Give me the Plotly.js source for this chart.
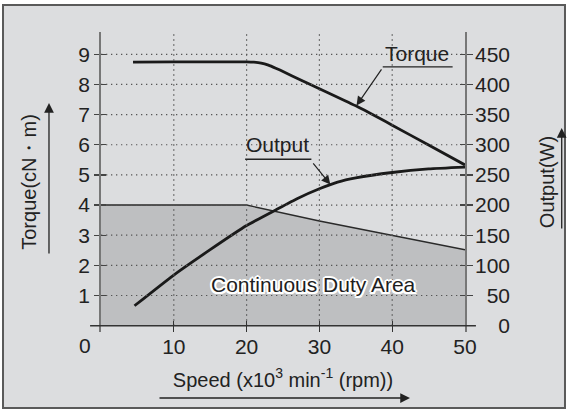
<!DOCTYPE html>
<html><head><meta charset="utf-8">
<script src="https://cdn.plot.ly/plotly-3.0.1.min.js"></script>
<style>html,body{margin:0;padding:0;background:#fff;}#chart{width:567px;height:410px;}</style>
</head><body><div id="chart"></div>
<script>
// ---- data ----
const torqueSpeed = [4.4, 10, 15, 20, 21, 22, 23, 24, 25, 27.5, 30, 35, 40, 45, 50];
const torqueVals  = [8.74, 8.75, 8.75, 8.75, 8.74, 8.71, 8.64, 8.54, 8.43, 8.14, 7.86, 7.29, 6.65, 5.99, 5.33];
const outputSpeed = [4.6, 10, 15, 20, 24, 27, 30, 32.5, 35, 40, 45, 50];
const outputVals  = [33, 84, 126, 166, 192, 211, 227, 238, 245, 254, 260, 263];
const dutySpeed   = [0, 20, 30, 40, 50];
const dutyTorque  = [4, 4, 3.47, 2.99, 2.52];
const xTicks      = [10, 20, 30, 40, 50];
const xGrid       = [10, 20, 30, 40];
const torqueTicks = [1, 2, 3, 4, 5, 6, 7, 8, 9];
const outputTicks = [0, 50, 100, 150, 200, 250, 300, 350, 400, 450];
const xTitle = 'Speed (x10<sup>3</sup> min<sup>-1</sup> (rpm))';
const yTitle = 'Torque(cN\u30FBm)';
const y2Title = 'Output(W)';
const labelTorque = 'Torque';
const labelOutput = 'Output';
const labelArea = 'Continuous Duty Area';

const X_RANGE = [0, 50];
const Y_RANGE = [-0.21, 9.74];
const Y2_RANGE = Y_RANGE.map(v => v * 50);
const INK = '#222';
const FONT = 'Liberation Sans, Arial, Helvetica, sans-serif';

// grid built from tick arrays
const hx = [], hy = [];
torqueTicks.forEach(t => { hx.push(X_RANGE[0], X_RANGE[1], null); hy.push(t, t, null); });
const vx = [], vy = [];
xGrid.forEach(t => { vx.push(t, t, null); vy.push(0, Y_RANGE[1], null); });

const gridLine = {color: '#555', width: 1.2, dash: '1.3px,3.7px'};
const traces = [
  {x: dutySpeed, y: dutyTorque, type: 'scatter', mode: 'lines', fill: 'tozeroy',
   fillcolor: '#bebfc1', line: {color: '#2a2a2a', width: 1.4}, hoverinfo: 'skip'},
  {x: hx, y: hy, type: 'scatter', mode: 'lines', line: gridLine, hoverinfo: 'skip', yaxis: 'y3'},
  {x: vx, y: vy, type: 'scatter', mode: 'lines', line: gridLine, hoverinfo: 'skip', yaxis: 'y4'},
  {x: torqueSpeed, y: torqueVals, type: 'scatter', mode: 'lines', name: 'Torque',
   line: {color: '#1a1a1a', width: 2.8, shape: 'spline', smoothing: 0.4}},
  {x: outputSpeed, y: outputVals, type: 'scatter', mode: 'lines', name: 'Output', yaxis: 'y2',
   line: {color: '#1a1a1a', width: 2.8, shape: 'spline', smoothing: 0.5}}
];

const axisCommon = {showgrid: false, zeroline: false, fixedrange: true, automargin: false};

const layout = {
  width: 567, height: 410,
  margin: {l: 101, r: 102, t: 32, b: 78},
  paper_bgcolor: '#ffffff', plot_bgcolor: 'rgba(0,0,0,0)',
  font: {family: FONT, size: 21, color: INK},
  showlegend: false,
  xaxis: Object.assign({}, axisCommon, {
    range: X_RANGE, tickvals: xTicks, ticktext: xTicks.map(String),
    ticks: 'inside', ticklen: 11, tickwidth: 1.3, tickcolor: '#333', showline: false,
    tickfont: {size: 21, color: INK},
    title: {text: xTitle, standoff: 15, font: {size: 20, color: INK}}
  }),
  yaxis: Object.assign({}, axisCommon, {
    range: Y_RANGE, tickvals: torqueTicks, ticktext: torqueTicks.map(String),
    ticks: 'outside', ticklen: 5, tickwidth: 1.3, tickcolor: '#444',
    showline: true, linecolor: '#777', linewidth: 1.8,
    tickfont: {size: 21, color: INK},
    title: {text: yTitle, standoff: 36, font: {size: 20, color: INK}}
  }),
  yaxis2: Object.assign({}, axisCommon, {
    overlaying: 'y', side: 'right', range: Y2_RANGE, tickvals: outputTicks,
    ticktext: outputTicks.map(v => String(v).padStart(3, '\u2007')),
    ticks: 'outside', ticklen: 6, tickwidth: 1.3, tickcolor: '#444',
    showline: true, linecolor: '#777', linewidth: 1.8, ticklabelstandoff: -2,
    tickfont: {size: 21, color: INK},
    title: {text: y2Title, standoff: 31, font: {size: 20, color: INK}}
  }),
  yaxis3: Object.assign({}, axisCommon, {
    overlaying: 'y', side: 'left', range: Y_RANGE, tickvals: torqueTicks,
    ticks: 'inside', ticklen: 5, tickwidth: 1.3, tickcolor: '#444',
    showticklabels: false, showline: false
  }),
  yaxis4: Object.assign({}, axisCommon, {
    overlaying: 'y', side: 'right', range: Y_RANGE, tickvals: torqueTicks,
    ticks: 'inside', ticklen: 5, tickwidth: 1.3, tickcolor: '#444',
    showticklabels: false, showline: false
  }),
  shapes: [
    {type: 'rect', xref: 'paper', yref: 'paper', x0: -0.2692, x1: 1.2747, y0: -0.2533, y1: 1.09,
     fillcolor: '#dcdddf', line: {color: '#5a5a5a', width: 2}, layer: 'below'},
    {type: 'line', xref: 'paper', yref: 'y', x0: -0.03, x1: 1.03, y0: 0, y1: 0,
     line: {color: '#333', width: 1.5}, layer: 'above'},
    {type: 'line', xref: 'x', yref: 'y', x0: 38.7, x1: 48.3, y0: 8.58, y1: 8.58,
     line: {color: '#222', width: 1.3}},
    {type: 'line', xref: 'x', yref: 'y', x0: 19.8, x1: 28.9, y0: 5.52, y1: 5.52,
     line: {color: '#222', width: 1.3}}
  ],
  annotations: [
    {xref: 'x', yref: 'paper', x: 0, y: -0.0457, xshift: -16, text: '0', showarrow: false,
     xanchor: 'center', yanchor: 'middle', font: {size: 21, color: INK}},
    {xref: 'x', yref: 'y', x: 43.47, y: 9.02, text: labelTorque, showarrow: false,
     xanchor: 'center', yanchor: 'middle', font: {size: 21, color: INK}},
    {xref: 'x', yref: 'y', x: 24.18, y: 6.02, text: labelOutput, showarrow: false,
     xanchor: 'center', yanchor: 'middle', font: {size: 21, color: INK}},
    {xref: 'x', yref: 'y', x: 29.16, y: 1.35, text: labelArea, showarrow: false,
     xanchor: 'center', yanchor: 'middle',
     font: {size: 21, color: '#1e1e1e',
            shadow: '2px 0 0 #fff, -2px 0 0 #fff, 0 2px 0 #fff, 0 -2px 0 #fff, 1.5px 1.5px 0 #fff, -1.5px -1.5px 0 #fff, 1.5px -1.5px 0 #fff, -1.5px 1.5px 0 #fff'}},
    // leader arrows
    {xref: 'x', yref: 'y', x: 35.1, y: 7.30, ax: 26, ay: -37.7, text: '', showarrow: true,
     arrowhead: 2, arrowsize: 1.5, arrowwidth: 1.2, arrowcolor: '#222'},
    {xref: 'x', yref: 'y2', x: 31.5, y: 234, ax: -18.3, ay: -22.7, text: '', showarrow: true,
     arrowhead: 2, arrowsize: 1.5, arrowwidth: 1.2, arrowcolor: '#222'},
    // axis-title arrows
    {xref: 'paper', yref: 'paper', x: -0.1429, y: 0.7633, ax: 0, ay: 152, text: '', showarrow: true,
     arrowhead: 2, arrowsize: 1.5, arrowwidth: 1.3, arrowcolor: '#222'},
    {xref: 'paper', yref: 'paper', x: 1.2657, y: 0.68, ax: 0, ay: 102, text: '', showarrow: true,
     arrowhead: 2, arrowsize: 1.5, arrowwidth: 1.3, arrowcolor: '#222'},
    {xref: 'paper', yref: 'paper', x: 0.8489, y: -0.22, ax: -252, ay: 0, text: '', showarrow: true,
     arrowhead: 2, arrowsize: 1.5, arrowwidth: 1.3, arrowcolor: '#222'}
  ]
};

Plotly.newPlot('chart', traces, layout, {staticPlot: true, displayModeBar: false});
</script>
</body></html>
